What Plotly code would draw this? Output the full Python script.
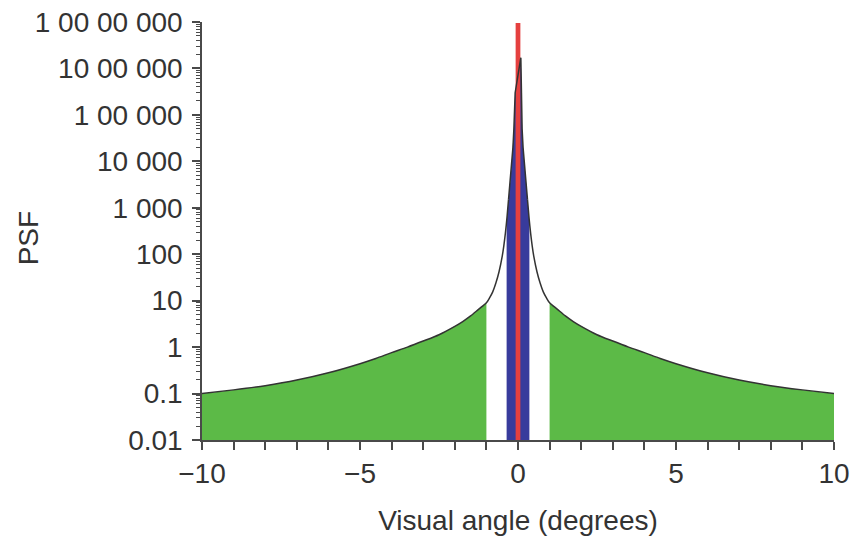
import math
import plotly.graph_objects as go

# ---- data ----
PSF_X = [-10, -9, -8, -7, -6, -5, -4.5, -4, -3.5, -3, -2.5, -2, -1.75, -1.5, -1.25,
         -1.0, -0.9, -0.8, -0.7, -0.6, -0.5, -0.45, -0.4, -0.35, -0.3, -0.25, -0.2,
         -0.16, -0.13, -0.11, -0.09,
         0.09, 0.11, 0.13, 0.16, 0.2, 0.25, 0.3, 0.35, 0.4, 0.45, 0.5, 0.6, 0.7, 0.8,
         0.9, 1.0, 1.25, 1.5, 1.75, 2, 2.5, 3, 3.5, 4, 4.5, 5, 6, 7, 8, 9, 10]
PSF_Y = [0.1, 0.12, 0.148, 0.195, 0.28, 0.44, 0.57, 0.76, 1.0, 1.35, 1.85, 2.8, 3.55,
         4.7, 6.5,
         9, 11.5, 15.5, 24, 42, 90, 150, 280, 600, 1500, 3500, 9000,
         20000, 50000, 120000, 300000,
         1700000, 120000, 50000, 20000, 9000, 3500, 1500, 600, 280, 150, 90, 42, 24,
         15.5, 11.5, 9, 6.5, 4.7, 3.55, 2.8, 1.85, 1.35, 1.0, 0.76, 0.57, 0.44, 0.28,
         0.195, 0.148, 0.12, 0.1]

GREEN_LIMIT = 1.0      # green region |x| >= 1
BLUE_LIMIT = 0.36      # blue region |x| <= 0.36
RED_HALF = 0.075       # red centre band half width
RED_PEAK = 9.5e6

Y_TICKVALS = [1e7, 1e6, 1e5, 1e4, 1e3, 100, 10, 1, 0.1, 0.01]
Y_TICKTEXT = ["1 00 00 000", "10 00 000", "1 00 000", "10 000", "1 000",
              "100", "10", "1", "0.1", "0.01"]
X_TICKVALS = [-10, -5, 0, 5, 10]
X_TICKTEXT = ["\u221210", "\u22125", "0", "5", "10"]

X_RANGE = [-10, 10]
Y_MIN, Y_MAX = 0.01, 1e7

GREEN = "#5cba47"
BLUE = "#383b9c"
RED = "#e5403f"
CURVE = "#333333"
TEXT = "#333333"
AXIS = "#4a4a4a"
FONT = "Liberation Sans, Arial, sans-serif"


def interp_log(xq):
    """value of the read curve at xq (log-linear between read points)"""
    for i in range(len(PSF_X) - 1):
        x0, x1 = PSF_X[i], PSF_X[i + 1]
        if x0 <= xq <= x1:
            y0, y1 = math.log10(PSF_Y[i]), math.log10(PSF_Y[i + 1])
            t = (xq - x0) / (x1 - x0) if x1 != x0 else 0
            return 10 ** (y0 + t * (y1 - y0))
    return PSF_Y[-1]


def segment(lo, hi):
    xs = [x for x in PSF_X if lo <= x <= hi]
    ys = [y for x, y in zip(PSF_X, PSF_Y) if lo <= x <= hi]
    if xs[0] > lo:
        xs.insert(0, lo); ys.insert(0, interp_log(lo))
    if xs[-1] < hi:
        xs.append(hi); ys.append(interp_log(hi))
    return xs, ys


fig = go.Figure()


def filled(lo, hi, color, shape):
    xs, ys = segment(lo, hi)
    fig.add_trace(go.Scatter(x=[lo, hi], y=[Y_MIN, Y_MIN], mode="lines",
                             line=dict(width=0), hoverinfo="skip"))
    fig.add_trace(go.Scatter(x=xs, y=ys, mode="lines", fill="tonexty",
                             fillcolor=color, line=dict(width=0, shape=shape,
                                                        smoothing=0.8),
                             hoverinfo="skip"))


filled(PSF_X[0], -GREEN_LIMIT, GREEN, "spline")
filled(GREEN_LIMIT, PSF_X[-1], GREEN, "spline")
filled(-BLUE_LIMIT, BLUE_LIMIT, BLUE, "linear")

fig.add_trace(go.Scatter(x=[-RED_HALF, RED_HALF, RED_HALF, -RED_HALF],
                         y=[Y_MIN, Y_MIN, RED_PEAK, RED_PEAK],
                         fill="toself", fillcolor=RED,
                         line=dict(width=0), mode="lines", hoverinfo="skip"))

# black PSF curve: smooth flanks, straight through the central spike
lx, ly = segment(PSF_X[0], -0.3)
rx, ry = segment(0.3, PSF_X[-1])
cx, cy = segment(-0.3, 0.3)
for xs, ys, shp in ((lx, ly, "spline"), (rx, ry, "spline"), (cx, cy, "linear")):
    fig.add_trace(go.Scatter(x=xs, y=ys, mode="lines", hoverinfo="skip",
                             line=dict(color=CURVE, width=1.5, shape=shp,
                                       smoothing=0.8)))

axis_common = dict(showline=True, linecolor=AXIS, linewidth=1.5,
                   ticks="outside", tickcolor=AXIS, tickwidth=1.5,
                   showgrid=False, zeroline=False, mirror=False,
                   automargin=False,
                   tickfont=dict(family=FONT, size=28, color=TEXT))

minor_y = [m * 10 ** e for e in range(-2, 7) for m in range(2, 10)]

fig.update_layout(
    width=851, height=542,
    margin=dict(l=202, r=17, t=22, b=102),
    paper_bgcolor="white", plot_bgcolor="white",
    showlegend=False,
    xaxis=dict(range=X_RANGE, tickmode="array", tickvals=X_TICKVALS,
               ticktext=X_TICKTEXT, ticklen=8,
               minor=dict(dtick=1, ticks="outside", ticklen=8,
                          tickcolor=AXIS, tickwidth=1.5),
               title=dict(text="Visual angle (degrees)",
                          font=dict(family=FONT, size=28, color=TEXT),
                          standoff=22),
               **axis_common),
    yaxis=dict(type="log", range=[-2, 7], tickmode="array",
               tickvals=Y_TICKVALS, ticktext=Y_TICKTEXT, ticklen=8,
               ticklabelstandoff=4,
               minor=dict(tickmode="array", tickvals=minor_y, ticks="outside",
                          ticklen=4, tickcolor=AXIS, tickwidth=1),
               **axis_common),
    annotations=[dict(text="PSF", textangle=-90, xref="paper", yref="paper",
                      x=-0.275, y=0.483, xanchor="center", yanchor="middle",
                      showarrow=False,
                      font=dict(family=FONT, size=28, color=TEXT))],
)

fig.write_html("out.html")
